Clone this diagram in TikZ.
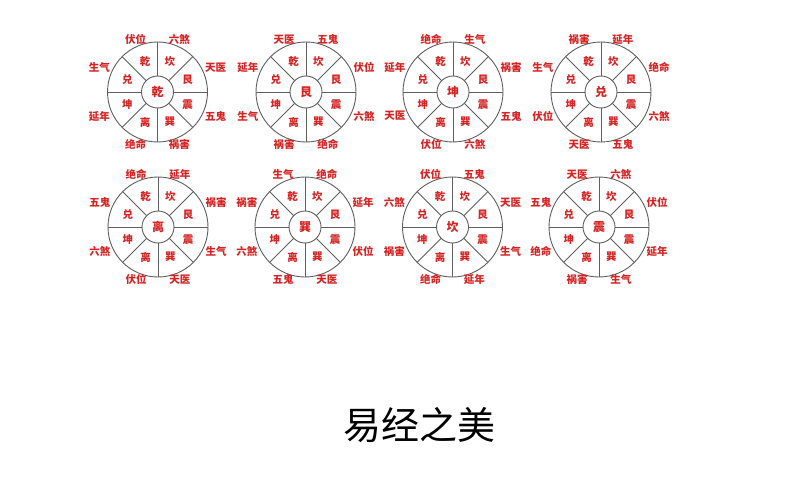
\documentclass[tikz,border=0pt]{standalone}
\usepackage{fontspec}
\setmainfont{Noto Sans CJK SC}
\definecolor{lbl}{RGB}{214,36,36}
\definecolor{ln}{RGB}{95,95,95}
\tikzset{
  seg/.style={text=lbl,font=\fontsize{10.5}{12}\selectfont\bfseries,inner sep=0pt},
  ctr/.style={text=lbl,font=\fontsize{12}{14}\selectfont\bfseries,inner sep=0pt,circle,draw=ln,line width=0.9pt,minimum size=32pt},
  outl/.style={text=lbl,font=\fontsize{10.5}{12}\selectfont\bfseries,inner sep=0pt},
  wline/.style={draw=ln,line width=0.9pt},
  ttl/.style={text=black,font=\fontsize{38}{42}\selectfont,inner sep=0pt}
}
\newcommand\baguawheel[4]{%
  \begin{scope}[shift={#2}]
    \draw[wline] (0,0) circle[radius=50];
    \node[ctr] (#1c) at (0,0) {#3};
    \foreach \a in {0,45,...,315} \draw[wline] (\a:16) -- (\a:50);
    \foreach \t [count=\i] in {乾,坎,艮,震,巽,离,坤,兑} {
      \pgfmathsetmacro\ang{112.5-45*(\i-1)}
      \node[seg] (#1s\i) at (\ang:32.5) {\t};
    }
    \foreach \t [count=\i] in {#4} {
      \pgfmathsetmacro\ang{112.5-45*(\i-1)}
      \pgfmathsetmacro\rr{{57,57,63,63,57,57,63,63}[\i-1]}
      \node[outl] (#1o\i) at (\ang:\rr) {\t};
    }
  \end{scope}}
\begin{document}
\begin{tikzpicture}[x=1pt,y=1pt]
  \useasboundingbox[fill=white] (0,0) rectangle (797,-500);
  \baguawheel{wa}{(157.5,-92)}{乾}{伏位,六煞,天医,五鬼,祸害,绝命,延年,生气}
  \baguawheel{wb}{(306,-92)}{艮}{天医,五鬼,伏位,六煞,绝命,祸害,生气,延年}
  \baguawheel{wc}{(453,-92)}{坤}{绝命,生气,祸害,五鬼,六煞,伏位,天医,延年}
  \baguawheel{wd}{(601,-92)}{兑}{祸害,延年,绝命,六煞,五鬼,天医,伏位,生气}
  \baguawheel{we}{(158,-227)}{离}{绝命,延年,祸害,生气,天医,伏位,六煞,五鬼}
  \baguawheel{wf}{(305,-227)}{巽}{生气,绝命,延年,伏位,天医,五鬼,六煞,祸害}
  \baguawheel{wg}{(452.5,-227)}{坎}{伏位,五鬼,天医,生气,延年,绝命,祸害,六煞}
  \baguawheel{wh}{(599,-227)}{震}{天医,六煞,伏位,延年,生气,祸害,绝命,五鬼}
  \node[ttl] (title) at (419,-425) {易经之美};
\end{tikzpicture}
\end{document}
